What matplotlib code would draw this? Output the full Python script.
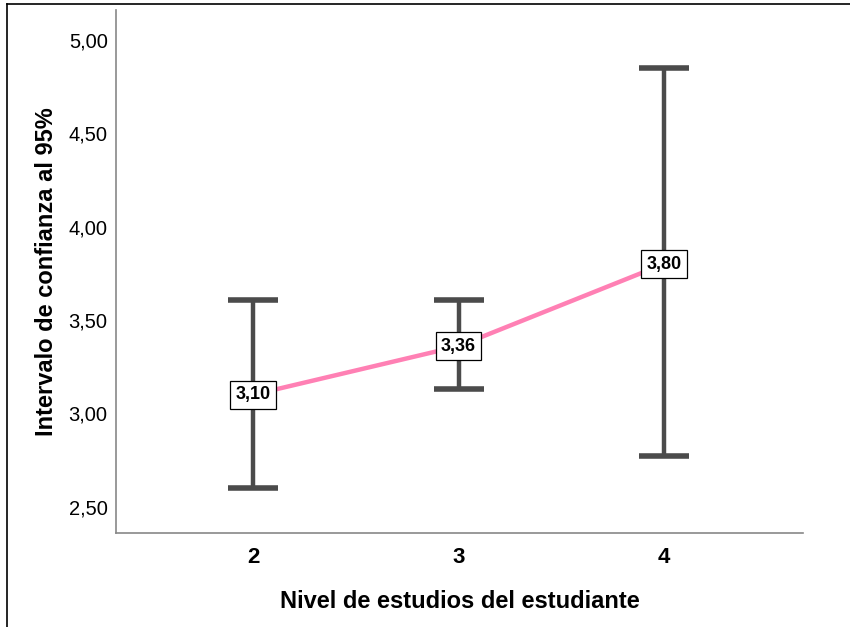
import numpy as np
import matplotlib
matplotlib.use('Agg')
from matplotlib import pyplot as plt
from matplotlib.lines import Line2D

plt.rcParams['font.family'] = ['Liberation Sans', 'DejaVu Sans']

# data
niveles = ['2', '3', '4']
medias = [3.10, 3.36, 3.80]
ic_inf = [2.60, 3.13, 2.77]
ic_sup = [3.61, 3.61, 4.85]
etiquetas = ['3,10', '3,36', '3,80']
yticks = [2.5, 3.0, 3.5, 4.0, 4.5, 5.0]

x = np.arange(len(niveles)) + 2

fig = plt.figure(figsize=(8.5, 6.27), dpi=100)
ax = fig.add_axes([0.1365, 0.150, 0.808, 0.834])

# error bars
err = [np.array(medias) - np.array(ic_inf), np.array(ic_sup) - np.array(medias)]
ax.errorbar(x, medias, yerr=err, fmt='none', ecolor='#4b4b4b', elinewidth=3.2,
	capsize=18, capthick=4, zorder=2)
ax.plot(x, medias, color='#ff80b4', linewidth=3.2, zorder=3)

for xi, m, t in zip(x, medias, etiquetas):
	ax.text(xi, m, t, ha='center', va='center', fontsize=13, fontweight='bold', zorder=4,
		bbox=dict(boxstyle='square,pad=0.3', facecolor='white', edgecolor='black', linewidth=0.9))

ax.set_xlim(1.333, 4.676)
ax.set_ylim(2.36, 5.16)
ax.set_xticks(x)
ax.set_xticklabels(niveles, fontsize=16, fontweight='bold')
ax.set_yticks(yticks)
ax.set_yticklabels([('%.2f' % v).replace('.', ',') for v in yticks], fontsize=14.5)
ax.tick_params(length=0, pad=6)
ax.tick_params(axis='x', pad=10)

for s in ['top', 'right']:
	ax.spines[s].set_visible(False)
for s in ['left', 'bottom']:
	ax.spines[s].set_color('#888888')
	ax.spines[s].set_linewidth(1.2)

ax.set_xlabel('Nivel de estudios del estudiante', fontsize=17, fontweight='bold', labelpad=16)
ax.set_ylabel('Intervalo de confianza al 95%', fontsize=17, fontweight='bold', labelpad=8)

# outer frame (top and left edges only, as in the source image)
fig.add_artist(Line2D([7 / 850, 1], [1 - 4 / 627, 1 - 4 / 627], color='black', linewidth=1.2, transform=fig.transFigure))
fig.add_artist(Line2D([7 / 850, 7 / 850], [0, 1 - 4 / 627], color='black', linewidth=1.2, transform=fig.transFigure))

plt.savefig('out.png', dpi=100)
